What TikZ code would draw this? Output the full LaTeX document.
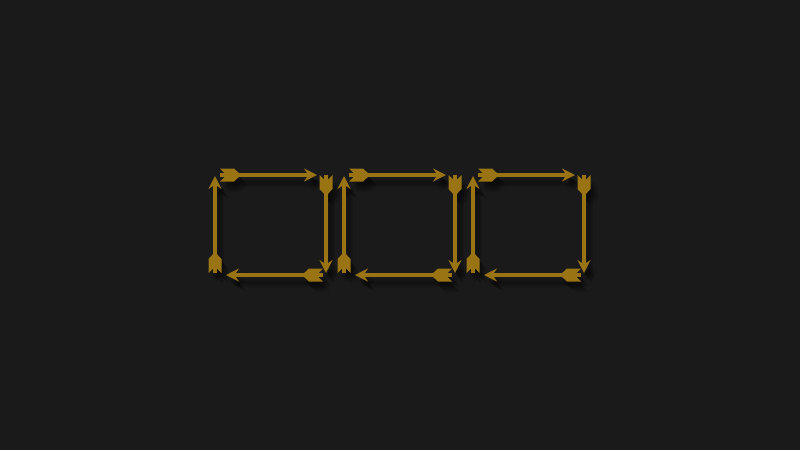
\documentclass[tikz,border=0pt]{standalone}
\usetikzlibrary{arrows.meta,decorations.markings}
\definecolor{bgdark}{HTML}{1A1A1A}
\definecolor{quivergold}{HTML}{9A7412}
\tikzset{
  quiver/.style={line width=3.2, -{Stealth[length=13pt,width=13pt,inset=4.5pt]},
    postaction={decorate,decoration={markings,mark=at position 0 with
      {\fill (0,6.5) -- (14,6.5) -- (21,0) -- (14,-6.5) -- (0,-6.5) -- (6.5,0) -- cycle;}}}}
}

\begin{document}
\begin{tikzpicture}[x=1pt,y=-1pt]
    \fill[bgdark] (0,0) rectangle (800,450);
    % soft shadow first, then the gold arrows
    \foreach \dx/\dy/\col/\op in {7/10/black/0.12,5/8/black/0.15,3/6/black/0.15,0/0/quivergold/1}
    \foreach \i in {0,1,2} {
      \begin{scope}[shift={(\dx,\dy)},xshift=129*\i]
        \coordinate (nw\i) at (215,175);
        \coordinate (ne\i) at (326,175);
        \coordinate (se\i) at (326,275);
        \coordinate (sw\i) at (215,275);
      \end{scope}
      \draw[quiver,color=\col,opacity=\op] ([xshift=5]nw\i) -- ([xshift=-9]ne\i);
      \draw[quiver,color=\col,opacity=\op] (ne\i) -- ([yshift=2]se\i);
      \draw[quiver,color=\col,opacity=\op] ([xshift=-3]se\i) -- ([xshift=11]sw\i);
      \draw[quiver,color=\col,opacity=\op] ([yshift=2]sw\i) -- ([yshift=-1]nw\i);
    }
\end{tikzpicture}
\end{document}
